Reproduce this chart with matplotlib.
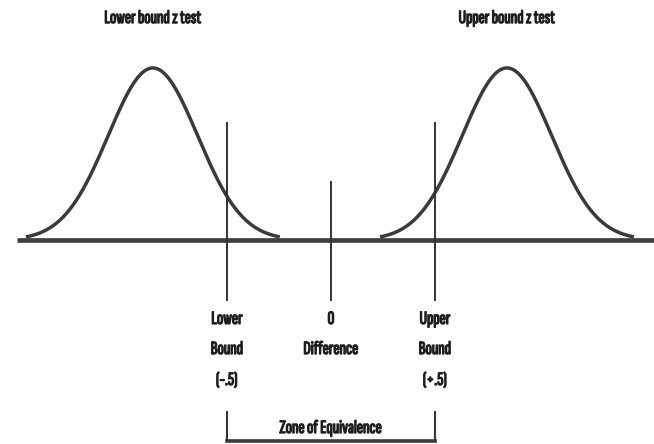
import matplotlib
matplotlib.use("Agg")
import matplotlib.pyplot as plt
import matplotlib.patheffects as pe
import numpy as np

# difference scale: bounds at -.5 / +.5, test distributions centred outside
bounds = [-0.5, 0.0, 0.5]
bound_labels = [["Lower", "Bound", "(-.5)"], ["0", "Difference"], ["Upper", "Bound", "(+.5)"]]
bound_tops = [0.68, 0.337, 0.68]
curve_means = [-0.856, 0.846]
curve_sd = 0.215
curve_titles = ["Lower bound z test", "Upper bound z test"]
zone_label = "Zone of Equivalence"

ink = "#1e1e1e"
font = dict(family=["Sofia Sans Extra Condensed", "DejaVu Sans"], fontweight="bold",
            fontsize=13.5, color=ink,
            path_effects=[pe.withStroke(linewidth=0.9, foreground=ink)])

fig = plt.figure(figsize=(6.54, 4.44), dpi=100)
ax = fig.add_axes([0, 0, 1, 1])
ax.set_xlim(-1.591, 1.553)
ax.set_ylim(-1.186, 1.395)
ax.axis("off")

# baseline
ax.plot([-1.51, 1.553], [0, 0], color="#404040", lw=3.4, solid_capstyle="butt", zorder=3)

# the two normal curves (peak scaled to 1)
for mu, title in zip(curve_means, curve_titles):
    x = np.linspace(mu - 2.8 * curve_sd, mu + 2.8 * curve_sd, 300)
    y = np.exp(-0.5 * ((x - mu) / curve_sd) ** 2)
    ax.plot(x, y, color="#3a3a3a", lw=2.5, zorder=2)
    ax.text(mu, 1.29, title, ha="center", va="center", **font)

# bound / zero lines and their labels
line_y = [-0.459, -0.634, -0.814]
for b, top, lines in zip(bounds, bound_tops, bound_labels):
    ax.plot([b, b], [-0.349, top], color="#333333", lw=1.4, zorder=4)
    for ly, txt in zip(line_y, lines):
        ax.text(b, ly, txt, ha="center", va="center", **font)

# zone of equivalence bracket
for b in (bounds[0], bounds[2]):
    ax.plot([b, b], [-1.0, -1.169], color="#333333", lw=1.5, zorder=4)
ax.plot([bounds[0], bounds[2]], [-1.169, -1.169], color="#3a3a3a", lw=2.6,
        solid_capstyle="projecting", zorder=4)
ax.text(bounds[1], -1.093, zone_label, ha="center", va="center", **font)

fig.savefig("out.png", dpi=100)
